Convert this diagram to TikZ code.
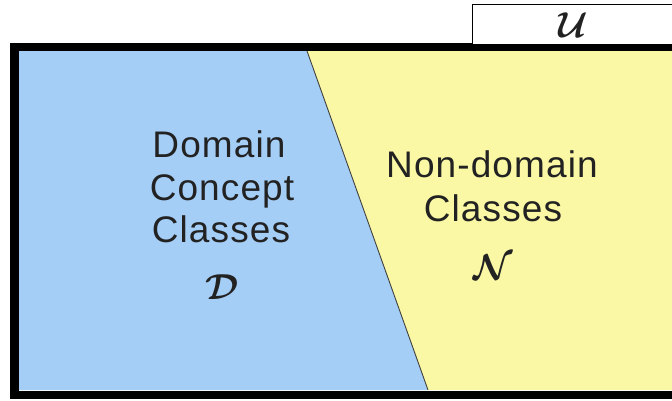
\documentclass[tikz,border=0pt]{standalone}
\usepackage{amsmath}
\usepackage{fontspec}
\setmainfont{Liberation Sans}[LetterSpace=3]
\definecolor{domblue}{RGB}{165,206,247}
\definecolor{nonyellow}{RGB}{250,248,165}
\definecolor{txtgray}{RGB}{34,34,34}
\newcommand{\bigsym}[1]{\scalebox{1.45}{$\boldsymbol{\mathcal{#1}}$}}
\begin{document}
\begin{tikzpicture}[x=1pt,y=-1pt,
  lbl/.style={text=txtgray,font=\fontsize{37}{43}\selectfont,inner sep=0pt,anchor=base},
  sym/.style={text=txtgray,font=\fontsize{24}{24}\selectfont,inner sep=0pt},
  frameline/.style={line width=8.5pt,draw=black},
  divider/.style={draw=black!75,line width=0.9pt}]
\useasboundingbox (0,0) rectangle (672,400);
\clip (0,0) rectangle (672,400);
% regions
\fill[domblue] (19,51) -- (307,51) -- (428,390) -- (19,390) -- cycle;
\fill[nonyellow] (307,51) -- (690,51) -- (690,390) -- (428,390) -- cycle;
\coordinate (dtop) at (307,51);
\coordinate (dbot) at (428,390);
\draw[divider] (dtop) -- (dbot);
% frame
\draw[frameline] (690,47) -- (14.5,47) -- (14.5,395) -- (690,395);
% universe label box
\node[draw=black,line width=1.5pt,fill=white,minimum width=220pt,minimum height=40pt,anchor=north west,inner sep=0pt] (ubox) at (471.5,3.5) {};
\node[sym] (u) at (573,25) {\bigsym{U}};
% texts
\node[lbl] (dom1) at (219,157) {Domain};
\node[lbl] (dom2) at (222,200) {Concept};
\node[lbl] (dom3) at (221,242) {Classes};
\node[sym] (d) at (222,287) {\bigsym{D}};
\node[lbl] (non1) at (492,177) {Non-domain};
\node[lbl] (non2) at (493,221) {Classes};
\node[sym] (n) at (493,267) {\bigsym{N}};
\end{tikzpicture}
\end{document}
